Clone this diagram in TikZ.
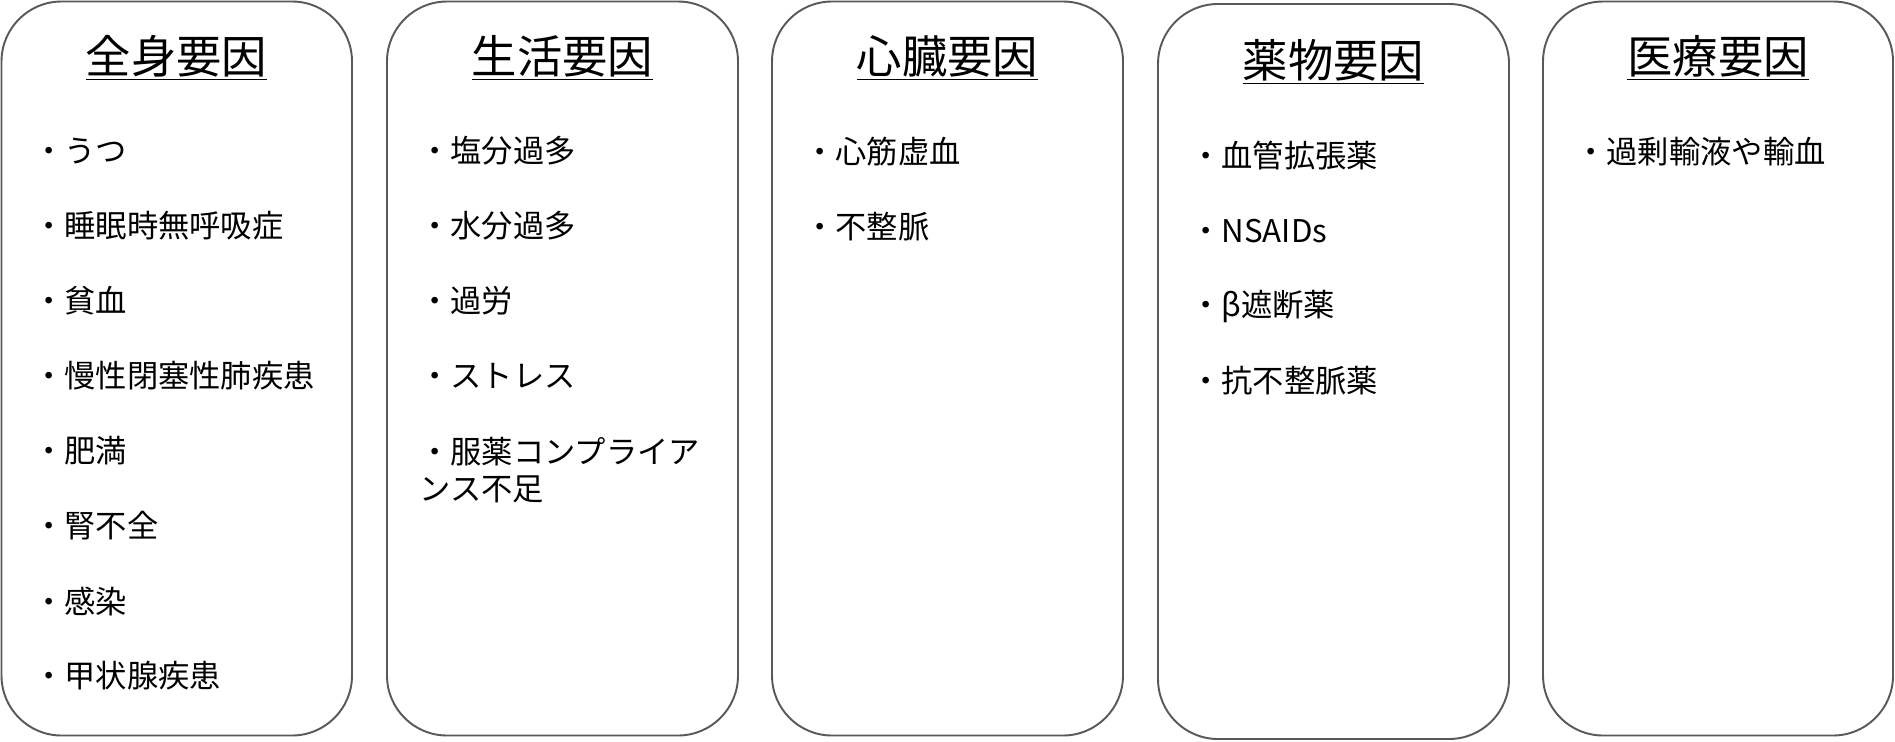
\documentclass[tikz,border=0pt]{standalone}
\usepackage{fontspec}
\setmainfont{Noto Sans CJK JP}
\definecolor{cPanel}{RGB}{89,89,89}
\tikzset{
  panel/.style={draw=cPanel,line width=1.1pt,rounded corners=1.2cm},
  heading/.style={inner sep=0pt,font=\fontsize{25.8}{30}\selectfont},
  item/.style={anchor=west,inner sep=0pt,align=left,font=\fontsize{17.8}{20.7}\selectfont},
}
\begin{document}
\begin{tikzpicture}[x=0.02cm,y=-0.02cm]
\useasboundingbox (0,0) rectangle (1895,741);
% panels
\draw[panel] (1.5,1.5) rectangle (352,735.5);
\draw[panel] (387,1.5) rectangle (738,735.5);
\draw[panel] (772,1.5) rectangle (1123,735.5);
\draw[panel] (1158,4) rectangle (1509,739);
\draw[panel] (1543,1.5) rectangle (1893,735.5);
% headings
\node[heading] (hZenshin) at (176.5,58) {\underline{全身要因}};
\node[heading] (hSeikatsu) at (562.5,58) {\underline{生活要因}};
\node[heading] (hShinzo) at (947.5,58) {\underline{心臓要因}};
\node[heading] (hYakubutsu) at (1333.5,62) {\underline{薬物要因}};
\node[heading] (hIryo) at (1718,58) {\underline{医療要因}};
% systemic
\node[item] (z1) at (33,151) {・うつ};
\node[item] (z2) at (33,226) {・睡眠時無呼吸症};
\node[item] (z3) at (33,301) {・貧血};
\node[item] (z4) at (33,376) {・慢性閉塞性肺疾患};
\node[item] (z5) at (33,451) {・肥満};
\node[item] (z6) at (33,526) {・腎不全};
\node[item] (z7) at (33,601) {・感染};
\node[item] (z8) at (33,676) {・甲状腺疾患};
% lifestyle
\node[item] (s1) at (419,151) {・塩分過多};
\node[item] (s2) at (419,226) {・水分過多};
\node[item] (s3) at (419,301) {・過労};
\node[item] (s4) at (419,376) {・ストレス};
\node[item] (s5) at (419,470) {・服薬コンプライア\\ンス不足};
% cardiac
\node[item] (c1) at (804,152) {・心筋虚血};
\node[item] (c2) at (804,227) {・不整脈};
% drugs
\node[item] (y1) at (1190,156) {・血管拡張薬};
\node[item] (y2) at (1190,231) {・NSAIDs};
\node[item] (y3) at (1190,306) {・β遮断薬};
\node[item] (y4) at (1190,381) {・抗不整脈薬};
% medical
\node[item] (m1) at (1575,152) {・過剰輸液や輸血};
\end{tikzpicture}
\end{document}
